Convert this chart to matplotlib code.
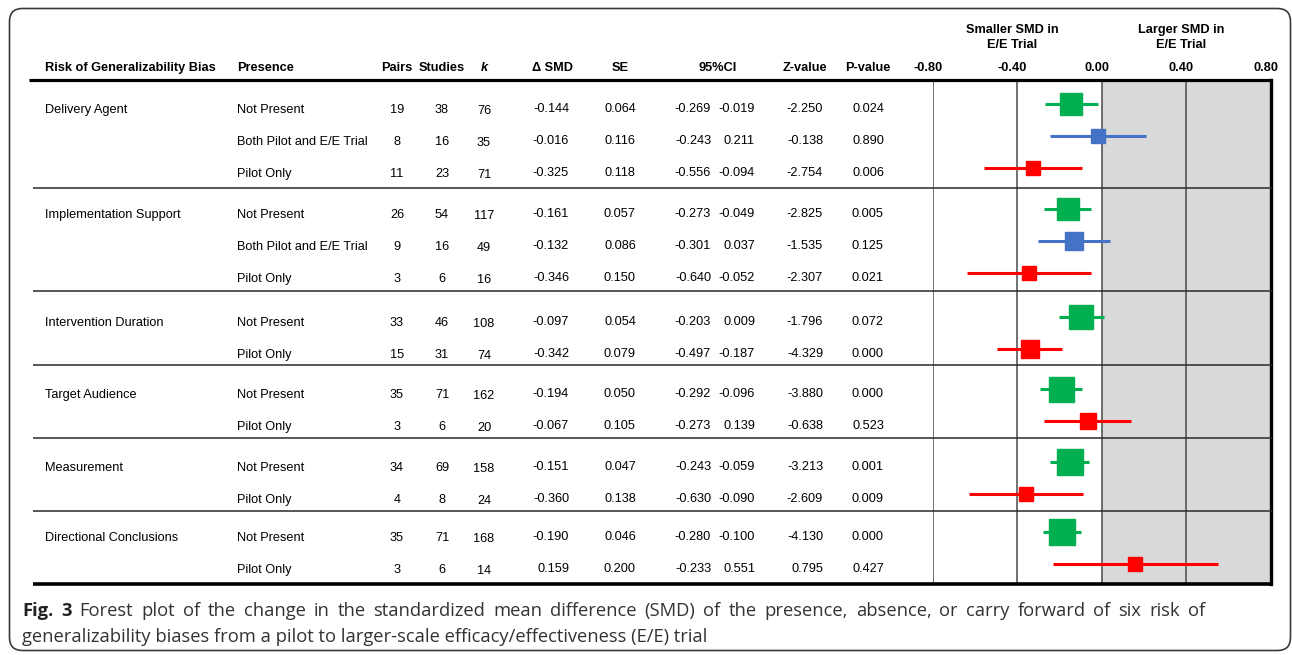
import matplotlib
matplotlib.use("Agg")
import matplotlib.pyplot as plt
from matplotlib.patches import FancyBboxPatch
from matplotlib.transforms import ScaledTranslation

# ---- data -------------------------------------------------------------
bias_domains = ["Delivery Agent", "Implementation Support", "Intervention Duration",
                "Target Audience", "Measurement", "Directional Conclusions"]
presence = [
    ["Not Present", "Both Pilot and E/E Trial", "Pilot Only"],
    ["Not Present", "Both Pilot and E/E Trial", "Pilot Only"],
    ["Not Present", "Pilot Only"],
    ["Not Present", "Pilot Only"],
    ["Not Present", "Pilot Only"],
    ["Not Present", "Pilot Only"],
]
pairs = [19, 8, 11, 26, 9, 3, 33, 15, 35, 3, 34, 4, 35, 3]
studies = [38, 16, 23, 54, 16, 6, 46, 31, 71, 6, 69, 8, 71, 6]
k_effects = [76, 35, 71, 117, 49, 16, 108, 74, 162, 20, 158, 24, 168, 14]
delta_smd = [-0.144, -0.016, -0.325, -0.161, -0.132, -0.346, -0.097, -0.342,
             -0.194, -0.067, -0.151, -0.360, -0.190, 0.159]
se = [0.064, 0.116, 0.118, 0.057, 0.086, 0.150, 0.054, 0.079,
      0.050, 0.105, 0.047, 0.138, 0.046, 0.200]
ci_low = [-0.269, -0.243, -0.556, -0.273, -0.301, -0.640, -0.203, -0.497,
          -0.292, -0.273, -0.243, -0.630, -0.280, -0.233]
ci_high = [-0.019, 0.211, -0.094, -0.049, 0.037, -0.052, 0.009, -0.187,
           -0.096, 0.139, -0.059, -0.090, -0.100, 0.551]
z_value = [-2.250, -0.138, -2.754, -2.825, -1.535, -2.307, -1.796, -4.329,
           -3.880, -0.638, -3.213, -2.609, -4.130, 0.795]
p_value = [0.024, 0.890, 0.006, 0.005, 0.125, 0.021, 0.072, 0.000,
           0.000, 0.523, 0.001, 0.009, 0.000, 0.427]
x_ticks = [-0.80, -0.40, 0.00, 0.40, 0.80]
x_tick_labels = ["-0.80", "-0.40", "0.00", "0.40", "0.80"]

presence_colors = {"Not Present": "#00B050",
                   "Both Pilot and E/E Trial": "#4472C4",
                   "Pilot Only": "#FF0000"}

caption_line1 = ("Forest plot of the change in the standardized mean difference (SMD) of the "
                 "presence, absence, or carry forward of six risk of")
caption_line2 = ("generalizability biases from a pilot to larger-scale "
                 "efficacy/effectiveness (E/E) trial")

# ---- figure in pixel units -------------------------------------------
W, H, DPI = 1292, 655, 100
fig = plt.figure(figsize=(W / DPI, H / DPI), dpi=DPI)
plt.rcParams["font.family"] = ["Liberation Sans", "DejaVu Sans"]

tab = fig.add_axes([0, 0, 1, 1])
tab.set_xlim(0, W)
tab.set_ylim(H, 0)
tab.axis("off")
tab.set_zorder(3)

FS = 9.2
TOP_LINE, BOTTOM_LINE = 80, 583.5
GROUP_FIRST_ROW = [108, 213, 321, 393, 466, 536]
GROUP_RULE = [188, 291, 365, 437.5, 510.5]
ROW_STEP = 32
PLOT_LEFT, PLOT_RIGHT = 933, 1270.5

# row positions
row_y, row_group, row_presence = [], [], []
for g, items in enumerate(presence):
    for j, item in enumerate(items):
        row_y.append(GROUP_FIRST_ROW[g] + ROW_STEP * j)
        row_group.append(g)
        row_presence.append(item)

# outer rounded frame
frame = FancyBboxPatch((9.5, 8.5), 1281, 642, boxstyle="round,pad=0,rounding_size=13",
                       transform=tab.transData, fill=False, ec="#3a3a3a", lw=1.2,
                       clip_on=False)
tab.add_patch(frame)

# column headers
hdr_y = 68
hdr = dict(fontsize=FS, fontweight="bold", va="center")
tab.text(45, hdr_y, "Risk of Generalizability Bias", **hdr)
tab.text(237, hdr_y, "Presence", **hdr)
tab.text(397, hdr_y, "Pairs", ha="center", **hdr)
tab.text(442, hdr_y, "Studies", ha="center", **hdr)
tab.text(484, hdr_y, "k", fontstyle="italic", ha="center", **hdr)
tab.text(553, hdr_y, "Δ SMD", ha="center", **hdr)
tab.text(620, hdr_y, "SE", ha="center", **hdr)
tab.text(718, hdr_y, "95%CI", ha="center", **hdr)
tab.text(805, hdr_y, "Z-value", ha="center", **hdr)
tab.text(868, hdr_y, "P-value", ha="center", **hdr)

# table rules
tab.plot([29, PLOT_RIGHT + 1.5], [TOP_LINE, TOP_LINE], color="black", lw=2.3,
         solid_capstyle="butt")
for yr in GROUP_RULE:
    tab.plot([33, PLOT_RIGHT + 1.5], [yr, yr], color="#2a2a2a", lw=1.1,
             solid_capstyle="butt")
tab.plot([33, PLOT_RIGHT + 1.5], [BOTTOM_LINE, BOTTOM_LINE], color="black", lw=2.6,
         solid_capstyle="butt")

# table body
seen = set()
for r, y in enumerate(row_y):
    g = row_group[r]
    yt = y + 2
    if g not in seen:
        tab.text(45, yt, bias_domains[g], fontsize=FS, va="center")
        seen.add(g)
    tab.text(237, yt, row_presence[r], fontsize=FS, va="center")
    tab.text(397, yt, f"{pairs[r]}", fontsize=FS, ha="center", va="center")
    tab.text(442, yt, f"{studies[r]}", fontsize=FS, ha="center", va="center")
    tab.text(484, yt + 1, f"{k_effects[r]}", fontsize=FS, ha="center", va="center")
    tab.text(569, yt - 1, f"{delta_smd[r]:.3f}", fontsize=FS, ha="right", va="center")
    tab.text(620, yt - 1, f"{se[r]:.3f}", fontsize=FS, ha="center", va="center")
    tab.text(711, yt - 1, f"{ci_low[r]:.3f}", fontsize=FS, ha="right", va="center")
    tab.text(755, yt - 1, f"{ci_high[r]:.3f}", fontsize=FS, ha="right", va="center")
    tab.text(823, yt - 1, f"{z_value[r]:.3f}", fontsize=FS, ha="right", va="center")
    tab.text(884, yt - 1, f"{p_value[r]:.3f}", fontsize=FS, ha="right", va="center")

# ---- forest panel -----------------------------------------------------
ax = fig.add_axes([PLOT_LEFT / W, 1 - BOTTOM_LINE / H,
                   (PLOT_RIGHT - PLOT_LEFT) / W, (BOTTOM_LINE - TOP_LINE) / H])
ax.set_zorder(2)
ax.set_xlim(x_ticks[0], x_ticks[-1])
ax.set_ylim(BOTTOM_LINE, TOP_LINE)
ax.axvspan(0, x_ticks[-1], color="#D9D9D9", lw=0, zorder=0)
for xv in x_ticks[:-1]:
    ax.axvline(xv, color="#4a4a4a", lw=1.1, zorder=1)
for side in ("left", "top", "bottom"):
    ax.spines[side].set_visible(False)
ax.spines["right"].set_linewidth(2.4)
ax.spines["right"].set_color("black")
ax.set_yticks([])
ax.xaxis.tick_top()
ax.set_xticks(x_ticks)
ax.set_xticklabels(x_tick_labels, fontsize=FS, fontweight="bold")
ax.tick_params(axis="x", length=0, pad=4)
shift = ScaledTranslation(-5 / DPI, 0, fig.dpi_scale_trans)
for lab in ax.get_xticklabels():
    lab.set_transform(lab.get_transform() + shift)

for r, y in enumerate(row_y):
    col = presence_colors[row_presence[r]]
    ym = y - 4.5
    ax.plot([ci_low[r], ci_high[r]], [ym, ym], color=col, lw=2.2,
            solid_capstyle="butt", zorder=3)
    size_px = max(14, 7 + 0.9 / se[r])
    ax.plot(delta_smd[r], ym, marker="s", ms=size_px * 72 / DPI, color=col,
            mec=col, zorder=4, clip_on=False)

for xc, label in ((-0.40, "Smaller SMD in\nE/E Trial"), (0.40, "Larger SMD in\nE/E Trial")):
    ax.text(xc, 37.5, label, fontsize=FS, fontweight="bold", ha="center", va="center",
            linespacing=1.3, clip_on=False, transform=ax.transData + shift)

# ---- caption (first line justified) ----------------------------------
CAP_FS = 13.2
CAP_FAMILY = ["Open Sans", "DejaVu Sans"]
CAP_LEFT, CAP_RIGHT = 22, 1205
fig.canvas.draw()
renderer = fig.canvas.get_renderer()

words = [("Fig.", "bold"), ("3", "bold")] + [(w, "normal") for w in caption_line1.split()]
artists = []
for w, wt in words:
    t = tab.text(0, 616, w, fontsize=CAP_FS, fontweight=wt, family=CAP_FAMILY,
                 color="#222222" if wt == "bold" else "#333333", va="baseline")
    artists.append(t)
widths = [t.get_window_extent(renderer).width for t in artists]
gap = (CAP_RIGHT - CAP_LEFT - sum(widths)) / (len(widths) - 1)
x = CAP_LEFT
for t, wd in zip(artists, widths):
    t.set_x(x)
    x += wd + gap

tab.text(CAP_LEFT, 642, caption_line2, fontsize=CAP_FS, family=CAP_FAMILY,
         color="#333333", va="baseline")

fig.savefig("out.png", dpi=DPI)
